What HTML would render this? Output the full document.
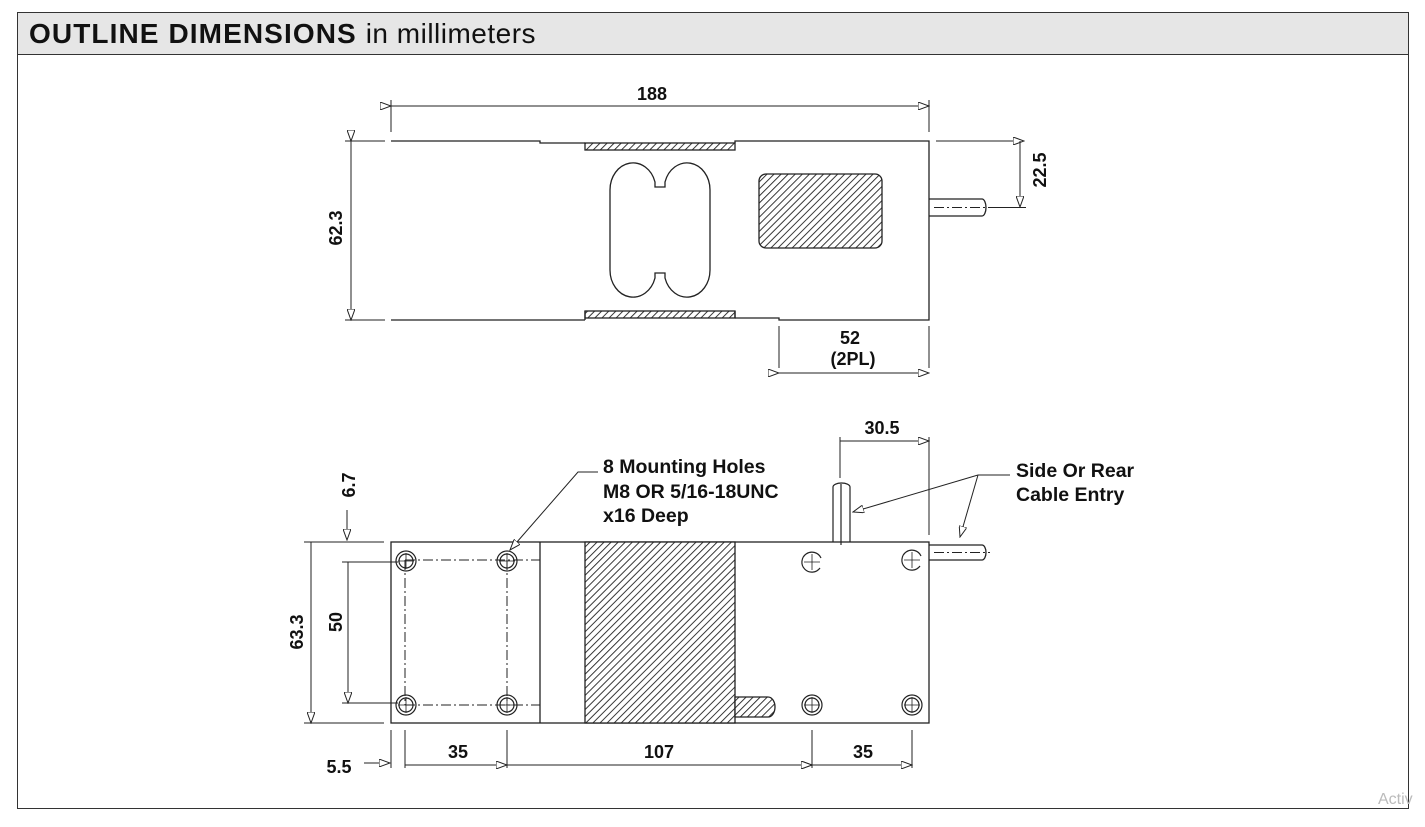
<!DOCTYPE html>
<html><head><style>
body{margin:0;background:#fff;width:1425px;height:822px;overflow:hidden;font-family:"Liberation Sans",Arial,sans-serif}
</style></head><body>
<svg width="1425" height="822" xmlns="http://www.w3.org/2000/svg" font-family="Liberation Sans, Arial, sans-serif">
<defs>
<pattern id="h" width="5" height="5" patternUnits="userSpaceOnUse" patternTransform="rotate(45)">
<rect width="5" height="5" fill="#fff"/><line x1="0" y1="0" x2="0" y2="5" stroke="#222" stroke-width="1.8"/></pattern>
<marker id="a" markerWidth="12" markerHeight="8" refX="11" refY="4" orient="auto" markerUnits="userSpaceOnUse"><path d="M0,0 L11,4 L0,8 Z" fill="#fff" stroke="#222" stroke-width="1"/></marker>
</defs>
<rect x="17.5" y="12.5" width="1391" height="796" fill="#fff" stroke="#333"/>
<rect x="17.5" y="12.5" width="1391" height="42" fill="#e6e6e6" stroke="#333"/>
<text x="29" y="43" font-size="28" font-weight="bold" fill="#111" letter-spacing="1.1">OUTLINE DIMENSIONS <tspan font-weight="normal" font-size="28" letter-spacing="0.5">in millimeters</tspan></text>
<g stroke="#222" stroke-width="1.3" fill="none">
<!-- top view -->
<path d="M391,141 H540 V143 H585 M735,143 V141 H929 V320 H779 V318 H735 M585,320 H391 Z"/>
<rect x="585" y="143" width="150" height="7" fill="url(#h)"/>
<rect x="585" y="311" width="150" height="7" fill="url(#h)"/>
<path d="M585,320 V311 M735,311 V318"/>
<path d="M655,187 V182 A23,27 0 0 0 610,190 V270 A23,27 0 0 0 655,278 V273 H665 V278 A23,27 0 0 0 710,270 V190 A23,27 0 0 0 665,182 V187 Z" fill="#fff"/>
<rect x="759" y="174" width="123" height="74" rx="7" fill="url(#h)"/>
<path d="M929,199 H982 M929,216 H982 M982,199 A4,8.5 0 0 1 982,216"/>
<path d="M934,207.5 H990" stroke-dasharray="10,3,2,3" stroke-width="1"/>
<!-- dims top -->
<path d="M391,100 V132 M929,100 V132" stroke-width="1"/>
<path d="M391,106 H929" stroke-width="1" marker-start="url(#a)" marker-end="url(#a)"/>
<path d="M345,141 H385 M345,320 H385" stroke-width="1"/>
<path d="M351,141 V320" stroke-width="1" marker-start="url(#a)" marker-end="url(#a)"/>
<path d="M936,141 H1024" stroke-width="1" marker-end="url(#a)"/>
<path d="M990,207.5 H1026" stroke-width="1"/>
<path d="M1020,141 V207" stroke-width="1" marker-end="url(#a)"/>
<path d="M779,326 V368 M929,326 V368" stroke-width="1"/>
<path d="M779,373 H929" stroke-width="1" marker-start="url(#a)" marker-end="url(#a)"/>
<!-- bottom view -->
<rect x="391" y="542" width="538" height="181"/>
<path d="M540,542 V723"/>
<rect x="585" y="542" width="150" height="181" fill="url(#h)"/>
<path d="M735,697 H768 A7,10 0 0 1 768,717 H735 Z" fill="url(#h)"/>
<path d="M405,560 H540 M405,705 H540 M405,560 V705 M507,560 V705" stroke-width="1" stroke-dasharray="10,3,2,3"/>
<g stroke-width="1.2">
<circle cx="406" cy="561" r="10"/><circle cx="406" cy="561" r="7"/>
<circle cx="507" cy="561" r="10"/><circle cx="507" cy="561" r="7"/>
<circle cx="406" cy="705" r="10"/><circle cx="406" cy="705" r="7"/>
<circle cx="507" cy="705" r="10"/><circle cx="507" cy="705" r="7"/>
<path d="M820,568 A10,10 0 1 1 821,558"/><path d="M920,566 A10,10 0 1 1 921,556"/>
<circle cx="812" cy="705" r="10"/><circle cx="812" cy="705" r="7"/>
<circle cx="912" cy="705" r="10"/><circle cx="912" cy="705" r="7"/>
</g>
<g stroke-width="0.8">
<path d="M398,561 H414 M406,553 V569 M499,561 H515 M507,553 V569 M398,705 H414 M406,697 V713 M499,705 H515 M507,697 V713"/>
<path d="M804,562 H820 M812,554 V570 M904,560 H920 M912,552 V568 M804,705 H820 M812,697 V713 M904,705 H920 M912,697 V713"/>
</g>
<path d="M833,542 V487 A8.5,4 0 0 1 850,487 V542 M841,484 V545" stroke-width="1.2"/>
<path d="M929,545 H982 M929,560 H982 M982,545 A4,7.5 0 0 1 982,560"/>
<path d="M934,552.5 H990" stroke-dasharray="10,3,2,3" stroke-width="1"/>
<!-- dims bottom -->
<path d="M304,542 H384 M304,723 H384 M342,562 H398 M342,703 H398" stroke-width="1"/>
<path d="M311,542 V723" stroke-width="1" marker-end="url(#a)"/>
<path d="M348,562 V703" stroke-width="1" marker-end="url(#a)"/>
<path d="M347,510 V540" stroke-width="1" marker-end="url(#a)"/>
<path d="M391,730 V768 M405,730 V768 M507,730 V768 M812,730 V768 M912,730 V768" stroke-width="1"/>
<path d="M364,763 H390" stroke-width="1" marker-end="url(#a)"/>
<path d="M405,765 H507" stroke-width="1" marker-end="url(#a)"/>
<path d="M507,765 H812" stroke-width="1" marker-end="url(#a)"/>
<path d="M812,765 H912" stroke-width="1" marker-start="url(#a)" marker-end="url(#a)"/>
<path d="M840,437 V478 M929,437 V535" stroke-width="1"/>
<path d="M840,441 H929" stroke-width="1" marker-end="url(#a)"/>
<path d="M598,472 H578 L510,550" stroke-width="1" marker-end="url(#a)"/>
<path d="M1010,475 H978" stroke-width="1"/>
<path d="M978,475 L853,512" stroke-width="1" marker-end="url(#a)"/>
<path d="M978,475 L960,537" stroke-width="1" marker-end="url(#a)"/>
</g>
<g font-size="18" font-weight="bold" fill="#111">
<text x="652" y="100" text-anchor="middle">188</text>
<text transform="translate(342,228) rotate(-90)" text-anchor="middle">62.3</text>
<text transform="translate(1046,170) rotate(-90)" text-anchor="middle">22.5</text>
<text x="850" y="344" text-anchor="middle">52</text>
<text x="853" y="365" text-anchor="middle">(2PL)</text>
<text x="882" y="434" text-anchor="middle">30.5</text>
<g font-size="19.5">
<text x="603" y="473">8 Mounting Holes</text>
<text x="603" y="498">M8 OR 5/16-18UNC</text>
<text x="603" y="522">x16 Deep</text>
<text x="1016" y="477">Side Or Rear</text>
<text x="1016" y="501">Cable Entry</text>
</g>
<text transform="translate(355,485) rotate(-90)" text-anchor="middle">6.7</text>
<text transform="translate(303,632) rotate(-90)" text-anchor="middle">63.3</text>
<text transform="translate(342,622) rotate(-90)" text-anchor="middle">50</text>
<text x="339" y="773" text-anchor="middle">5.5</text>
<text x="458" y="758" text-anchor="middle">35</text>
<text x="659" y="758" text-anchor="middle">107</text>
<text x="863" y="758" text-anchor="middle">35</text>
</g>
<text x="1378" y="804" font-size="16" fill="#bbb">Activ</text>
</svg>
</body></html>
